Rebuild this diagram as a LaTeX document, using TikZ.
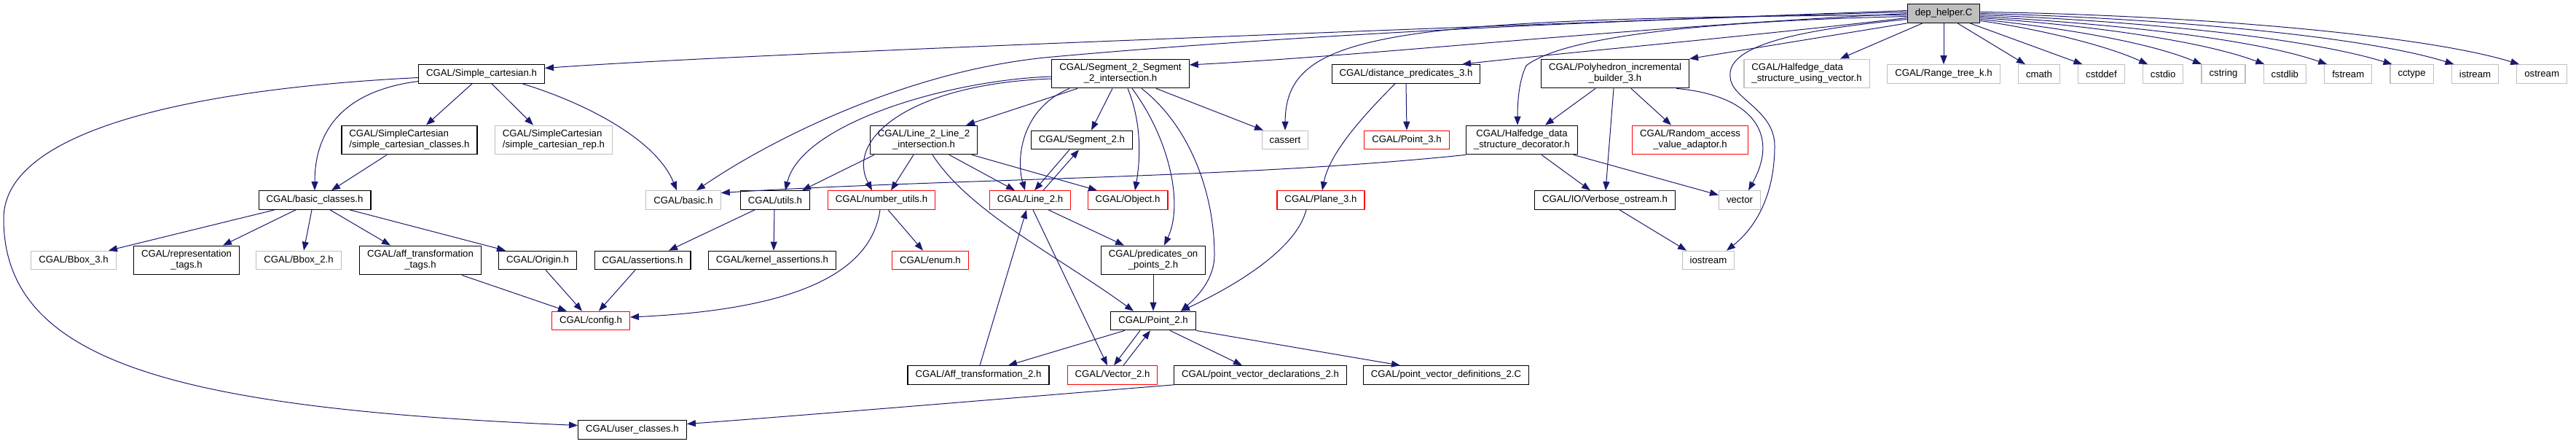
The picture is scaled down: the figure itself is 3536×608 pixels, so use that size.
\documentclass[tikz,border=0pt]{standalone}
\usepackage{fontspec}
\setmainfont{Liberation Sans}
\usetikzlibrary{arrows.meta, positioning}
\definecolor{edgeblue}{RGB}{25,25,112}
\definecolor{nodegray}{RGB}{191,191,191}
\tikzset{
  hfile/.style = {rectangle, draw=black, line width=1.2pt, align=center, font=\fontsize{13.2}{15}\selectfont, inner xsep=10.5pt, inner ysep=6.2pt, minimum height=25.5pt, fill=white},
  extfile/.style = {hfile, draw=nodegray},
  redfile/.style = {hfile, draw=red},
  rootfile/.style = {hfile, fill=nodegray},
  incl/.style = {-{Triangle[length=12pt, width=9pt]}, draw=edgeblue, line width=1pt}
}
\begin{document}
\begin{tikzpicture}[x=1pt, y=-1pt]
\useasboundingbox (0,0) rectangle (3536,608);

% Root
\node[rootfile] (dep) at (2668,18.5) {dep\_helper.C};

% First row
\node[hfile] (simplecart) at (661,101.5) {CGAL/Simple\_cartesian.h};
\node[hfile] (seg2seg) at (1538,101) {CGAL/Segment\_2\_Segment\\\_2\_intersection.h};
\node[hfile] (distpred) at (1930,101.5) {CGAL/distance\_predicates\_3.h};
\node[hfile] (polybuilder) at (2217,101) {CGAL/Polyhedron\_incremental\\\_builder\_3.h};
\node[extfile, align=left] (hdsvector) at (2480,101) {CGAL/Halfedge\_data\\\_structure\_using\_vector.h};
\node[extfile] (rangetree) at (2668,101.5) {CGAL/Range\_tree\_k.h};
\node[extfile, right=24pt of rangetree] (cmath) {cmath};
\node[extfile, right=24pt of cmath] (cstddef) {cstddef};
\node[extfile, right=24pt of cstddef] (cstdio) {cstdio};
\node[extfile, right=24pt of cstdio] (cstring) {cstring};
\node[extfile, right=24pt of cstring] (cstdlib) {cstdlib};
\node[extfile, right=24pt of cstdlib] (fstream) {fstream};
\node[extfile, right=24pt of fstream] (cctype) {cctype};
\node[extfile, right=24pt of cctype] (istream) {istream};
\node[extfile, right=24pt of istream] (ostream) {ostream};

% Second row
\node[hfile, align=left] (sccl) at (562,192) {CGAL/SimpleCartesian\\/simple\_cartesian\_classes.h};
\node[extfile, align=left] (screp) at (760,192) {CGAL/SimpleCartesian\\/simple\_cartesian\_rep.h};
\node[hfile] (l2l2) at (1268,192) {CGAL/Line\_2\_Line\_2\\\_intersection.h};
\node[hfile] (seg2) at (1485,192) {CGAL/Segment\_2.h};
\node[extfile] (cassert) at (1764,192) {cassert};
\node[redfile] (point3) at (1931,192) {CGAL/Point\_3.h};
\node[hfile] (hdsdec) at (2089,192) {CGAL/Halfedge\_data\\\_structure\_decorator.h};
\node[redfile] (randacc) at (2320,192) {CGAL/Random\_access\\\_value\_adaptor.h};

% Third row
\node[hfile] (basiccl) at (432,274.5) {CGAL/basic\_classes.h};
\node[extfile] (basic) at (938,274.5) {CGAL/basic.h};
\node[hfile] (utils) at (1064,274.5) {CGAL/utils.h};
\node[redfile] (numutils) at (1210,274.5) {CGAL/number\_utils.h};
\node[redfile] (line2) at (1414,274.5) {CGAL/Line\_2.h};
\node[redfile] (object) at (1548,274.5) {CGAL/Object.h};
\node[redfile] (plane3) at (1813,274.5) {CGAL/Plane\_3.h};
\node[hfile] (verbose) at (2203,274.5) {CGAL/IO/Verbose\_ostream.h};
\node[extfile] (stdvector) at (2388,274.5) {vector};

% Fourth row
\node[extfile] (bbox3) at (101,357) {CGAL/Bbox\_3.h};
\node[hfile] (reptags) at (256,357) {CGAL/representation\\\_tags.h};
\node[extfile] (bbox2) at (410,357) {CGAL/Bbox\_2.h};
\node[hfile] (afftags) at (577,357) {CGAL/aff\_transformation\\\_tags.h};
\node[hfile] (origin) at (738,357) {CGAL/Origin.h};
\node[hfile] (assertions) at (882,357) {CGAL/assertions.h};
\node[hfile] (kernelassert) at (1060,357) {CGAL/kernel\_assertions.h};
\node[redfile] (enum) at (1277,357) {CGAL/enum.h};
\node[hfile] (predicates) at (1583,357) {CGAL/predicates\_on\\\_points\_2.h};
\node[extfile] (iostream) at (2345,357) {iostream};

% Lower rows
\node[redfile] (config) at (811,440) {CGAL/config.h};
\node[hfile] (point2) at (1583,440) {CGAL/Point\_2.h};
\node[hfile] (aff2) at (1343,514.5) {CGAL/Aff\_transformation\_2.h};
\node[redfile] (vector2) at (1527,514.5) {CGAL/Vector\_2.h};
\node[hfile] (pvdecl) at (1730,514.5) {CGAL/point\_vector\_declarations\_2.h};
\node[hfile] (pvdef) at (1985,514.5) {CGAL/point\_vector\_definitions\_2.C};
\node[hfile] (userclasses) at (868,589.5) {CGAL/user\_classes.h};

% Arrows from the root
\draw[incl] ([yshift=4pt]dep.west) .. controls (1800,45) and (1000,75) .. ([yshift=8pt]simplecart.east);
\draw[incl] ([yshift=2pt]dep.west) .. controls (2100,30) and (1700,55) .. (1445,78) .. controls (1250,95) and (1060,190) .. ([xshift=18pt]basic.north);
\draw[incl] (dep.west) .. controls (2200,40) and (1900,75) .. ([yshift=12pt]seg2seg.east);
\draw[incl] ([yshift=-2pt]dep.west) .. controls (1900,25) and (1765,45) .. (cassert.north);
\draw[incl] ([yshift=-6pt]dep.west) .. controls (2400,50) and (2150,72) .. ([xshift=77pt]distpred.north);
\draw[incl] ([yshift=-4pt]dep.west) .. controls (2300,30) and (2140,55) .. (2095,90) .. controls (2085,110) and (2083,140) .. ([xshift=-6pt]hdsdec.north);
\draw[incl] (dep.south west) -- (polybuilder.north east);
\draw[incl] ([xshift=-29pt]dep.south) -- ([xshift=46pt]hdsvector.north);
\draw[incl] (dep.south) -- (rangetree.north);
\draw[incl] ([xshift=19pt]dep.south) -- ([xshift=-19pt]cmath.north);
\draw[incl] ([xshift=36pt]dep.south) -- ([xshift=-26pt]cstddef.north);
\draw[incl] ([yshift=-10pt]dep.east) .. controls (2800,40) and (2890,62) .. ([xshift=-21pt]cstdio.north);
\draw[incl] ([yshift=-8pt]dep.east) .. controls (2830,38) and (2950,58) .. ([xshift=-30pt]cstring.north);
\draw[incl] ([yshift=-6pt]dep.east) .. controls (2860,34) and (3020,55) .. ([xshift=-28pt]cstdlib.north);
\draw[incl] ([yshift=-4pt]dep.east) .. controls (2890,32) and (3090,52) .. ([xshift=-29pt]fstream.north);
\draw[incl] ([yshift=-2pt]dep.east) .. controls (2920,28) and (3160,50) .. ([xshift=-27pt]cctype.north);
\draw[incl] (dep.east) .. controls (2950,24) and (3240,48) .. ([xshift=-29pt]istream.north);
\draw[incl] ([yshift=2pt]dep.east) .. controls (2990,20) and (3320,46) .. ([xshift=-31pt]ostream.north);
\draw[incl] ([yshift=-8pt]dep.west) .. controls (2480,40) and (2370,60) .. (2375,105) .. controls (2375,135) and (2436,150) .. (2436,200) .. controls (2436,280) and (2400,320) .. ([xshift=25pt]iostream.north);

% Simple_cartesian.h
\draw[incl] ([yshift=-5pt]simplecart.west) .. controls (300,120) and (5,170) .. (5,300) .. controls (5,500) and (250,560) .. ([yshift=6pt]userclasses.west);
\draw[incl] ([yshift=-10pt]simplecart.west) .. controls (470,125) and (432,180) .. (basiccl.north);
\draw[incl] ([xshift=-13pt]simplecart.south) -- ([xshift=23pt]sccl.north);
\draw[incl] ([xshift=14pt]simplecart.south) -- ([xshift=-28pt]screp.north);
\draw[incl] ([xshift=56pt]simplecart.south) .. controls (800,140) and (900,190) .. ([xshift=-9pt]basic.north);
\draw[incl] ([xshift=-31pt]sccl.south) -- ([xshift=23pt]basiccl.north);

% basic_classes.h
\draw[incl] ([xshift=-55pt]basiccl.south) -- ([xshift=48pt]bbox3.north);
\draw[incl] ([xshift=-26pt]basiccl.south) -- ([xshift=50pt]reptags.north);
\draw[incl] ([xshift=-4pt]basiccl.south) -- ([xshift=7pt]bbox2.north);
\draw[incl] ([xshift=21pt]basiccl.south) -- ([xshift=-41pt]afftags.north);
\draw[incl] ([xshift=48pt]basiccl.south) -- ([xshift=-44pt]origin.north);

% Segment_2_Segment_2_intersection.h
\draw[incl] ([xshift=-59pt]seg2seg.south) -- ([xshift=58pt]l2l2.north);
\draw[incl] ([xshift=-70pt]seg2seg.south) .. controls (1400,150) and (1395,220) .. ([xshift=-7pt]line2.north);
\draw[incl] ([xshift=-11pt]seg2seg.south) -- ([xshift=13pt]seg2.north);
\draw[incl] ([xshift=10pt]seg2seg.south) .. controls (1568,170) and (1565,220) .. ([xshift=10pt]object.north);
\draw[incl] ([xshift=16pt]seg2seg.south) .. controls (1605,190) and (1625,280) .. ([xshift=15pt]predicates.north);
\draw[incl] ([xshift=29pt]seg2seg.south) .. controls (1630,170) and (1667,260) .. (1667,350) .. controls (1667,385) and (1640,410) .. ([xshift=38pt]point2.north);
\draw[incl] ([xshift=49pt]seg2seg.south) -- ([xshift=-30pt]cassert.north);
\draw[incl] ([yshift=-4pt]seg2seg.west) .. controls (1300,110) and (1100,170) .. ([xshift=14pt]utils.north);
\draw[incl] ([yshift=-7pt]seg2seg.west) .. controls (1250,115) and (1160,190) .. ([xshift=-13pt]numutils.north);

% Line_2_Line_2_intersection.h
\draw[incl] ([xshift=-68pt]l2l2.south) -- ([xshift=37pt]utils.north);
\draw[incl] ([xshift=-14pt]l2l2.south) -- ([xshift=13pt]numutils.north);
\draw[incl] ([xshift=12pt]l2l2.south) .. controls (1330,290) and (1450,350) .. ([xshift=-27pt]point2.north);
\draw[incl] ([xshift=35pt]l2l2.south) -- ([xshift=-21pt]line2.north);
\draw[incl] ([xshift=66pt]l2l2.south) -- ([xshift=-42pt]object.north);

% Segment_2.h and Line_2.h
\draw[incl] ([xshift=-17pt]seg2.south) -- ([xshift=6pt]line2.north);
\draw[incl] ([xshift=18pt]line2.north) -- ([xshift=-4pt]seg2.south);
\draw[incl] ([xshift=4pt]line2.south) -- ([xshift=-7pt]vector2.north);
\draw[incl] ([xshift=25pt]line2.south) -- ([xshift=-40pt]predicates.north);
\draw[incl] ([xshift=2pt]aff2.north) -- ([xshift=-5pt]line2.south);

% number_utils.h and utils.h
\draw[incl] ([xshift=9pt]numutils.south) -- ([xshift=-10pt]enum.north);
\draw[incl] ([xshift=-2pt]numutils.south) .. controls (1195,380) and (1080,425) .. ([yshift=5pt]config.east);
\draw[incl] ([xshift=-28pt]utils.south) -- ([xshift=36pt]assertions.north);
\draw[incl] ([xshift=-1pt]utils.south) -- ([xshift=2pt]kernelassert.north);

% distance_predicates_3.h
\draw[incl] (distpred.south) -- (point3.north);
\draw[incl] ([xshift=-15pt]distpred.south) .. controls (1870,160) and (1825,210) .. ([xshift=2pt]plane3.north);
\draw[incl] ([xshift=-20pt]plane3.south) .. controls (1780,340) and (1700,390) .. ([xshift=38pt]point2.north);

% Polyhedron_incremental_builder_3.h
\draw[incl] ([xshift=-27pt]polybuilder.south) -- ([xshift=32pt]hdsdec.north);
\draw[incl] ([xshift=-2pt]polybuilder.south) -- ([xshift=1pt]verbose.north);
\draw[incl] ([xshift=22pt]polybuilder.south) -- ([xshift=-26pt]randacc.north);
\draw[incl] ([xshift=84pt]polybuilder.south) .. controls (2400,130) and (2445,180) .. ([xshift=12pt]stdvector.north);

% Halfedge_data_structure_decorator.h
\draw[incl] ([xshift=27pt]hdsdec.south) -- ([xshift=-20pt]verbose.north);
\draw[incl] ([xshift=71pt]hdsdec.south) -- ([yshift=7pt]stdvector.west);
\draw[incl] (hdsdec.south west) .. controls (1700,245) and (1300,245) .. ([yshift=10pt]basic.east);
\draw[incl] ([xshift=20pt]verbose.south) -- ([xshift=-30pt]iostream.north);

% Point_2.h and below
\draw[incl] (predicates.south) -- (point2.north);
\draw[incl] ([xshift=-39pt]point2.south) -- ([xshift=41pt]aff2.north);
\draw[incl] ([xshift=-18pt]point2.south) -- ([xshift=2pt]vector2.north);
\draw[incl] ([xshift=15pt]vector2.north) -- ([xshift=-4pt]point2.south);
\draw[incl] ([xshift=23pt]point2.south) -- ([xshift=-25pt]pvdecl.north);
\draw[incl] (point2.south east) -- ([xshift=-63pt]pvdef.north);
\draw[incl] (pvdecl.south west) .. controls (1400,545) and (1100,570) .. ([yshift=8pt]userclasses.east);

% config.h
\draw[incl] ([xshift=57pt]afftags.south) -- ([xshift=-33pt]config.north);
\draw[incl] ([xshift=11pt]origin.south) -- ([xshift=-12pt]config.north);
\draw[incl] ([xshift=-10pt]assertions.south) -- ([xshift=11pt]config.north);

\end{tikzpicture}
\end{document}
